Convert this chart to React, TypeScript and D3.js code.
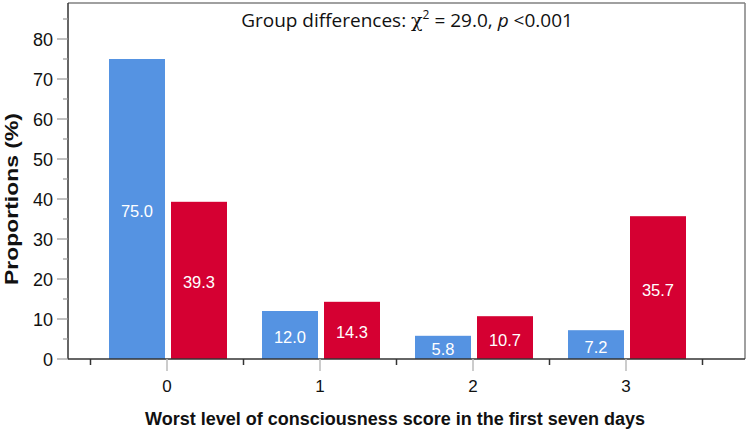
import React from "react";
import * as d3 from "d3";

const categories = ["0", "1", "2", "3"];
const groupA = [75.0, 12.0, 5.8, 7.2];
const groupB = [39.3, 14.3, 10.7, 35.7];
const yTicks = [0, 10, 20, 30, 40, 50, 60, 70, 80];
const yMinorTicks = [5, 15, 25, 35, 45, 55, 65, 75, 85];
const colorA = "#5593E2";
const colorB = "#D50032";

export default function App() {
  const W = 749, H = 432;
  const left = 68, right = 745, top = 3, bottom = 359;
  const y = d3.scaleLinear().domain([0, 80]).range([bottom, 39]);
  const x = d3.scaleLinear().domain([0, 3]).range([167, 626]);
  const barW = 56, gap = 6;
  const boundaries = d3.range(0, 5).map((i) => x(i - 0.5));
  const labelFont = "Liberation Sans, Arial, sans-serif";

  return (
    <svg width={W} height={H} style={{ position: "absolute", left: 0, top: 0, background: "#fff" }}>
      {/* frame */}
      <line x1={left} y1={top} x2={right} y2={top} stroke="#808080" strokeWidth={1.5} />
      <line x1={right} y1={top} x2={right} y2={bottom} stroke="#808080" strokeWidth={1.5} />
      {/* bars */}
      {categories.map((c, i) => {
        const cx = x(i) + 1;
        return (
          <g key={c}>
            <rect x={cx - gap / 2 - barW} y={y(groupA[i])} width={barW} height={bottom - y(groupA[i])} fill={colorA} />
            <rect x={cx + gap / 2} y={y(groupB[i])} width={barW} height={bottom - y(groupB[i])} fill={colorB} />
            <text x={cx - gap / 2 - barW / 2} y={(y(groupA[i]) + bottom) / 2 + 2} fill="#fff" fontSize={16.5} fontFamily={labelFont} textAnchor="middle" dominantBaseline="central">
              {groupA[i].toFixed(1)}
            </text>
            <text x={cx + gap / 2 + barW / 2} y={(y(groupB[i]) + bottom) / 2 + 2} fill="#fff" fontSize={16.5} fontFamily={labelFont} textAnchor="middle" dominantBaseline="central">
              {groupB[i].toFixed(1)}
            </text>
          </g>
        );
      })}
      {/* y axis */}
      <line x1={left} y1={top} x2={left} y2={bottom} stroke="#333" strokeWidth={1.5} />
      {yTicks.map((t) => (
        <g key={t}>
          <line x1={57} x2={left} y1={y(t)} y2={y(t)} stroke="#999" strokeWidth={1.2} />
          <text x={53} y={y(t) + 1} textAnchor="end" dominantBaseline="central" fontSize={18} fontFamily={labelFont} fill="#111">
            {t}
          </text>
        </g>
      ))}
      {yMinorTicks.map((t) => (
        <line key={t} x1={63} x2={left} y1={y(t)} y2={y(t)} stroke="#999" strokeWidth={1.2} />
      ))}
      {/* x axis */}
      <line x1={left} y1={bottom} x2={right} y2={bottom} stroke="#333" strokeWidth={1.5} />
      {boundaries.map((b, i) => (
        <line key={i} x1={b} x2={b} y1={bottom} y2={bottom + 6} stroke="#333" strokeWidth={1.5} />
      ))}
      {categories.map((c, i) => (
        <g key={c}>
          <line x1={x(i)} x2={x(i)} y1={bottom} y2={bottom + 12} stroke="#bbb" strokeWidth={1.5} />
          <text x={x(i)} y={386} textAnchor="middle" dominantBaseline="central" fontSize={17} fontFamily={labelFont} fill="#111">
            {c}
          </text>
        </g>
      ))}
      {/* axis titles */}
      <text x={395} y={425} textAnchor="middle" fontSize={18} fontWeight="bold" fontFamily={labelFont} fill="#111">
        Worst level of consciousness score in the first seven days
      </text>
      <text transform={`translate(18,${199}) rotate(-90)`} textAnchor="middle" fontSize={19} fontWeight="bold" fontFamily={labelFont} fill="#111" textLength={172} lengthAdjust="spacingAndGlyphs">
        Proportions (%)
      </text>
      {/* title */}
      <text x={407} y={27} textAnchor="middle" fontSize={19} fontFamily="Open Sans, sans-serif" fill="#111">
        <tspan>Group differences: </tspan>
        <tspan fontFamily="DejaVu Serif, serif">χ</tspan>
        <tspan fontSize={12} dy={-8}>2</tspan>
        <tspan dy={8}> = 29.0, </tspan>
        <tspan fontStyle="italic">p</tspan>
        <tspan> &lt;0.001</tspan>
      </text>
    </svg>
  );
}
